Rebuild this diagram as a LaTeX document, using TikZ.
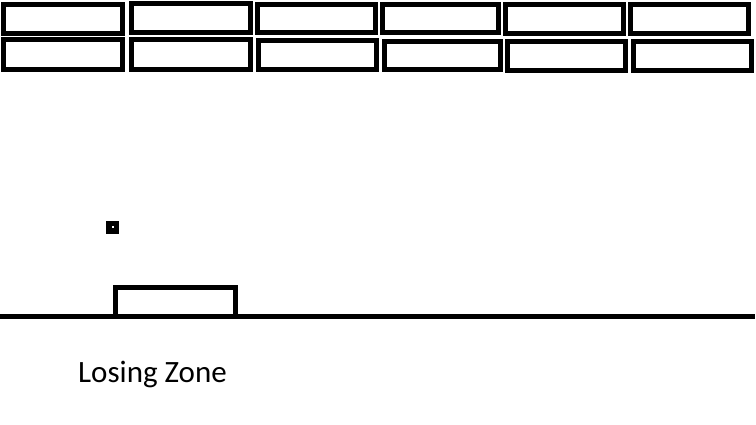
\documentclass[tikz,border=0pt]{standalone}
\usepackage{fontspec}
\setmainfont{Carlito}
\begin{document}
\begin{tikzpicture}[x=1pt,y=-1pt,
  brick/.style={draw=black,line width=5pt},
  floorline/.style={draw=black,line width=5pt},
  paddlebox/.style={draw=black,line width=5pt},
  zonelabel/.style={inner sep=0pt,anchor=base west,font=\fontsize{31}{35}\selectfont}]
\useasboundingbox[fill=white] (0,0) rectangle (756,425);
% row 1
\foreach \a/\b/\c/\d in {1/2/125/36,129/1/253/35,255/2/378/35,380/2/501/35,503/2/626/36,628/2/751/36}
  \draw[brick] (\a+2.5,\b+2.5) rectangle (\c-2.5,\d-2.5);
% row 2
\foreach \a/\b/\c/\d in {1/37/125/72,129/37/253/72,256/38/379/72,382/39/503/72,505/39/628/73,631/39/754/73}
  \draw[brick] (\a+2.5,\b+2.5) rectangle (\c-2.5,\d-2.5);
% ball
\fill[black] (106,221) rectangle (119,234);
\fill[white] (111.5,226.5) rectangle (113.5,228.5);
% floor
\coordinate (fl) at (0,316.5);
\coordinate (fr) at (755,316.5);
\draw[floorline] (fl) -- (fr);
% paddle
\draw[paddlebox] (115.5,316) -- (115.5,287.5) -- (235.5,287.5) -- (235.5,316);
\node[zonelabel] (zone) at (78,382) {Losing Zone};
\end{tikzpicture}
\end{document}
